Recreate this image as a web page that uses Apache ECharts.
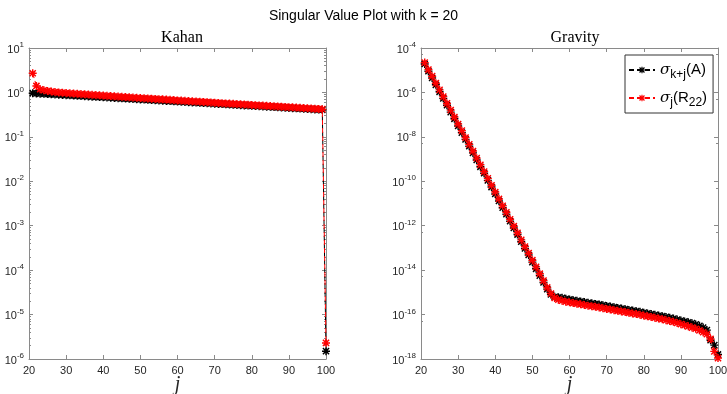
<!DOCTYPE html>
<html>
<head>
<meta charset="utf-8">
<script src="https://cdn.jsdelivr.net/npm/echarts@6/dist/echarts.min.js"></script>
<style>
  html, body { margin: 0; padding: 0; background: #fff; }
  #chart { width: 727px; height: 394px; }
</style>
</head>
<body>
<div id="chart"></div>
<script>
// index j (k = 20, so j runs from k+1 to n)
const jIdx = [21, 22, 23, 24, 25, 26, 27, 28, 29, 30, 31, 32, 33, 34, 35, 36, 37, 38, 39, 40,
  41, 42, 43, 44, 45, 46, 47, 48, 49, 50, 51, 52, 53, 54, 55, 56, 57, 58, 59, 60,
  61, 62, 63, 64, 65, 66, 67, 68, 69, 70, 71, 72, 73, 74, 75, 76, 77, 78, 79, 80,
  81, 82, 83, 84, 85, 86, 87, 88, 89, 90, 91, 92, 93, 94, 95, 96, 97, 98, 99, 100]

// Kahan: sigma_{k+j}(A)
const kahanA = [0.960, 0.949, 0.939, 0.929, 0.918, 0.908, 0.898, 0.888, 0.878, 0.869,
  0.859, 0.850, 0.840, 0.831, 0.822, 0.813, 0.804, 0.795, 0.786, 0.778,
  0.769, 0.761, 0.752, 0.744, 0.736, 0.728, 0.720, 0.712, 0.704, 0.696,
  0.689, 0.681, 0.674, 0.666, 0.659, 0.652, 0.645, 0.638, 0.631, 0.624,
  0.617, 0.610, 0.603, 0.597, 0.590, 0.584, 0.577, 0.571, 0.565, 0.559,
  0.552, 0.546, 0.540, 0.534, 0.529, 0.523, 0.517, 0.511, 0.506, 0.500,
  0.495, 0.489, 0.484, 0.479, 0.473, 0.468, 0.463, 0.458, 0.453, 0.448,
  0.443, 0.438, 0.434, 0.429, 0.424, 0.420, 0.415, 0.411, 0.406, 1.5e-6]

// Kahan: sigma_j(R22)
const kahanR22 = [2.70, 1.40, 1.18, 1.12, 1.08, 1.05, 1.02, 1.00, 0.985, 0.970,
  0.957, 0.945, 0.931, 0.919, 0.907, 0.895, 0.883, 0.871, 0.860, 0.849,
  0.838, 0.828, 0.817, 0.807, 0.797, 0.787, 0.777, 0.768, 0.758, 0.748,
  0.740, 0.731, 0.723, 0.714, 0.706, 0.698, 0.690, 0.682, 0.674, 0.661,
  0.654, 0.646, 0.639, 0.632, 0.625, 0.618, 0.611, 0.604, 0.597, 0.587,
  0.580, 0.573, 0.567, 0.561, 0.555, 0.549, 0.542, 0.536, 0.530, 0.523,
  0.517, 0.511, 0.506, 0.500, 0.494, 0.489, 0.483, 0.477, 0.472, 0.466,
  0.461, 0.456, 0.451, 0.446, 0.440, 0.435, 0.430, 0.426, 0.420, 2.3e-6]

// Gravity: sigma_{k+j}(A)
const gravityA = [1.9e-5, 9.0e-6, 4.5e-6, 2.2e-6, 1.07e-6, 5.4e-7, 2.65e-7, 1.3e-7, 6.5e-8, 3.1e-8,
  1.55e-8, 7.7e-9, 3.8e-9, 1.9e-9, 9.1e-10, 4.5e-10, 2.3e-10, 1.1e-10, 5.5e-11, 2.7e-11,
  1.3e-11, 6.5e-12, 3.3e-12, 1.6e-12, 7.9e-13, 4.0e-13, 1.9e-13, 9.5e-14, 4.8e-14, 2.3e-14,
  1.15e-14, 5.7e-15, 2.8e-15, 1.4e-15, 8.0e-16, 6.3e-16, 6.0e-16, 5.7e-16, 5.1e-16, 4.8e-16,
  4.45e-16, 4.2e-16, 3.9e-16, 3.65e-16, 3.4e-16, 3.2e-16, 3.0e-16, 2.85e-16, 2.65e-16, 2.45e-16,
  2.3e-16, 2.15e-16, 2.0e-16, 1.86e-16, 1.75e-16, 1.62e-16, 1.52e-16, 1.42e-16, 1.33e-16, 1.22e-16,
  1.13e-16, 1.06e-16, 9.8e-17, 9.0e-17, 8.5e-17, 7.8e-17, 7.2e-17, 6.6e-17, 6.0e-17, 5.4e-17,
  4.9e-17, 4.5e-17, 4.1e-17, 3.6e-17, 3.1e-17, 2.6e-17, 2.0e-17, 7.0e-18, 4.2e-18, 1.6e-18]

// Gravity: sigma_j(R22)
const gravityR22 = [2.2e-5, 1.07e-5, 5.4e-6, 2.6e-6, 1.3e-6, 6.5e-7, 3.2e-7, 1.6e-7, 7.8e-8, 3.8e-8,
  1.9e-8, 9.3e-9, 4.6e-9, 2.3e-9, 1.1e-9, 5.5e-10, 2.75e-10, 1.35e-10, 6.6e-11, 3.3e-11,
  1.6e-11, 7.9e-12, 4.0e-12, 1.95e-12, 9.5e-13, 4.8e-13, 2.3e-13, 1.15e-13, 5.8e-14, 2.8e-14,
  1.4e-14, 6.9e-15, 3.4e-15, 1.66e-15, 8.9e-16, 5.6e-16, 4.7e-16, 4.2e-16, 3.8e-16, 3.55e-16,
  3.3e-16, 3.1e-16, 2.9e-16, 2.7e-16, 2.5e-16, 2.4e-16, 2.24e-16, 2.1e-16, 1.95e-16, 1.8e-16,
  1.7e-16, 1.58e-16, 1.48e-16, 1.38e-16, 1.29e-16, 1.2e-16, 1.12e-16, 1.05e-16, 9.8e-17, 9.0e-17,
  8.3e-17, 7.8e-17, 7.2e-17, 6.6e-17, 6.2e-17, 5.6e-17, 5.1e-17, 4.7e-17, 4.2e-17, 3.7e-17,
  3.3e-17, 2.95e-17, 2.6e-17, 2.3e-17, 1.95e-17, 1.6e-17, 1.3e-17, 8.0e-18, 2.2e-18, 1.1e-18]

const nameA = 'sigA'
const nameR = 'sigR'

const chart = echarts.init(document.getElementById('chart'))

const axisGray = '#8a8a8a'
const labelColor = '#262626'
const star = 'path://M0,4.1H10V5.9H0Z M4.1,0H5.9V10H4.1Z M0.5,1.8L1.8,0.5L9.5,8.2L8.2,9.5Z M8.2,0.5L9.5,1.8L1.8,9.5L0.5,8.2Z'

const pair = ys => ys.map((v, i) => [jIdx[i], v])

const expLabel = v => {
  const e = Math.round(Math.log10(v))
  return '{b|10}{e|' + e + '}'
}
const expRich = {
  b: { fontFamily: 'Liberation Sans', fontSize: 11, color: labelColor, verticalAlign: 'bottom' },
  e: { fontFamily: 'Liberation Sans', fontSize: 8, color: labelColor, verticalAlign: 'top', padding: [0, 0, 6, 0] },
}

const xMain = gi => ({
  type: 'value', gridIndex: gi, min: 20, max: 100, interval: 10,
  name: 'j', nameLocation: 'middle', nameGap: 16, nameMoveOverlap: false,
  nameTextStyle: { fontFamily: 'Liberation Serif', fontStyle: 'italic', fontSize: 20, color: labelColor },
  axisLine: { lineStyle: { color: axisGray } },
  axisTick: { inside: true, length: 4, lineStyle: { color: axisGray } },
  axisLabel: { color: labelColor, fontFamily: 'Liberation Sans', fontSize: 11, margin: 6 },
  splitLine: { show: false },
})
const xTop = gi => ({
  type: 'value', gridIndex: gi, min: 20, max: 100, interval: 10, position: 'top',
  axisLine: { lineStyle: { color: axisGray } },
  axisTick: { inside: true, length: 4, lineStyle: { color: axisGray } },
  axisLabel: { show: false },
  splitLine: { show: false },
})
const yMain = (gi, min, max, step) => ({
  type: 'log', logBase: 10, gridIndex: gi, min: min, max: max, interval: step,
  axisLine: { lineStyle: { color: axisGray } },
  axisTick: { inside: true, length: 4, lineStyle: { color: axisGray } },
  minorTick: { show: true, splitNumber: step === 1 ? 9 : 2, length: 2, lineStyle: { color: axisGray } },
  axisLabel: { formatter: expLabel, rich: expRich, margin: 5 },
  splitLine: { show: false },
  minorSplitLine: { show: false },
})
const yRight = (gi, min, max, step) => ({
  type: 'log', logBase: 10, gridIndex: gi, min: min, max: max, interval: step, position: 'right',
  axisLine: { lineStyle: { color: axisGray } },
  axisTick: { inside: true, length: 4, lineStyle: { color: axisGray } },
  minorTick: { show: true, splitNumber: step === 1 ? 9 : 2, length: 2, lineStyle: { color: axisGray } },
  axisLabel: { show: false },
  splitLine: { show: false },
})

const mkSeries = (name, data, color, xi, yi, z) => ({
  name: name, type: 'line', xAxisIndex: xi, yAxisIndex: yi,
  data: pair(data),
  symbol: star, symbolSize: 8, showSymbol: true,
  lineStyle: { color: color, width: 1, type: [5, 3] },
  itemStyle: { color: color },
  z: z, animation: false,
})

const option = {
  backgroundColor: '#fff',
  animation: false,
  title: [
    { text: 'Singular Value Plot with k = 20', left: 'center', top: 4,
      textStyle: { fontFamily: 'Liberation Sans', fontSize: 14, fontWeight: 'normal', color: '#000' } },
    { text: 'Kahan', left: 177, top: 25, textAlign: 'center',
      textStyle: { fontFamily: 'Liberation Serif', fontSize: 16, fontWeight: 'normal', color: '#000' } },
    { text: 'Gravity', left: 570, top: 25, textAlign: 'center',
      textStyle: { fontFamily: 'Liberation Serif', fontSize: 16, fontWeight: 'normal', color: '#000' } },
  ],
  legend: {
    data: [nameA, nameR],
    orient: 'vertical',
    left: 625, top: 55,
    padding: [4, 6, 4, 3],
    itemGap: 6,
    itemWidth: 26, itemHeight: 8,
    borderColor: '#333', borderWidth: 1,
    backgroundColor: '#fff',
    formatter: n => n === nameA ? '{g|σ}{s|k+j}{t|(A)}' : '{g|σ}{s|j}{t|(R}{s|22}{t|)}',
    textStyle: {
      rich: {
        g: { fontFamily: 'DejaVu Serif', fontStyle: 'italic', fontSize: 15, color: '#000', lineHeight: 22 },
        s: { fontFamily: 'Liberation Sans', fontSize: 12, color: '#000', lineHeight: 22, padding: [10, 0, 0, 0] },
        t: { fontFamily: 'Liberation Sans', fontSize: 15, color: '#000', lineHeight: 22 },
      },
    },
  },
  grid: [
    { left: 29, right: 401, top: 48, bottom: 35, outerBoundsMode: 'none', containLabel: false },
    { left: 421, right: 9, top: 48, bottom: 35, outerBoundsMode: 'none', containLabel: false },
  ],
  xAxis: [xMain(0), xMain(1), xTop(0), xTop(1)],
  yAxis: [
    yMain(0, 1e-6, 10, 1),
    yMain(1, 1e-18, 1e-4, 2),
    yRight(0, 1e-6, 10, 1),
    yRight(1, 1e-18, 1e-4, 2),
  ],
  series: [
    mkSeries(nameA, kahanA, '#000000', 0, 0, 2),
    mkSeries(nameR, kahanR22, '#ff0000', 0, 0, 3),
    mkSeries(nameA, gravityA, '#000000', 1, 1, 2),
    mkSeries(nameR, gravityR22, '#ff0000', 1, 1, 3),
  ],
}

chart.setOption(option)
</script>
</body>
</html>
